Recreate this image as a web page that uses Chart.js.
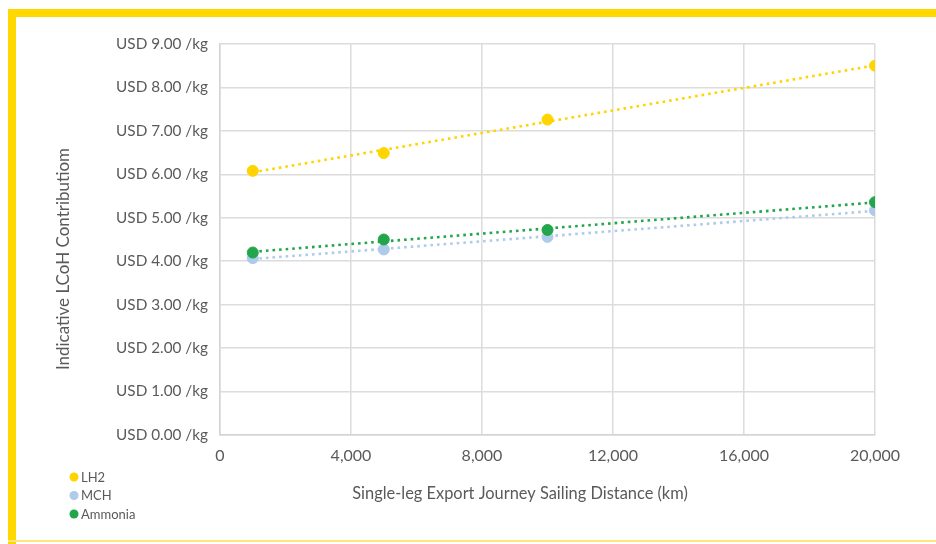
<!DOCTYPE html>
<html>
<head>
<meta charset="utf-8">
<script src="https://cdn.jsdelivr.net/npm/chart.js@4/dist/chart.umd.min.js"></script>
<style>
  html, body { margin: 0; padding: 0; background: #ffffff; }
  #wrap { position: relative; width: 936px; height: 544px; overflow: hidden; }
  #frame-top { position: absolute; left: 8px; top: 9px; width: 940px; height: 8px; background: #FFD800; }
  #frame-left { position: absolute; left: 8px; top: 9px; width: 8px; height: 540px; background: #FFD800; }
  #frame-bottom { position: absolute; left: 8px; top: 540px; width: 940px; height: 2px; background: #FBE77A; }
  canvas { position: absolute; left: 0; top: 0; }
</style>
</head>
<body>
<div id="wrap">
  <canvas id="chart" width="936" height="544"></canvas>
  <div id="frame-top"></div>
  <div id="frame-left"></div>
  <div id="frame-bottom"></div>
</div>
<script>
// Sailing distances (km) and indicative LCoH contribution (USD/kg) per carrier
const distanceKm = [1000, 5000, 10000, 20000];
const lh2Cost = [6.08, 6.49, 7.26, 8.50];
const mchCost = [4.07, 4.27, 4.56, 5.17];
const ammoniaCost = [4.20, 4.50, 4.72, 5.36];

const seriesNames = ['LH2', 'MCH', 'Ammonia'];
const seriesColors = ['#FFD400', '#AECBEA', '#22A64B'];

const xTickValues = [0, 4000, 8000, 12000, 16000, 20000];
const xTickLabels = ['0', '4,000', '8,000', '12,000', '16,000', '20,000'];
const yTickValues = [0, 1, 2, 3, 4, 5, 6, 7, 8, 9];
const yTickLabels = ['USD 0.00 /kg', 'USD 1.00 /kg', 'USD 2.00 /kg', 'USD 3.00 /kg', 'USD 4.00 /kg',
                     'USD 5.00 /kg', 'USD 6.00 /kg', 'USD 7.00 /kg', 'USD 8.00 /kg', 'USD 9.00 /kg'];

const xTitle = 'Single-leg Export Journey Sailing Distance (km)';
const yTitle = 'Indicative LCoH Contributiom';

const FONT = 'Lato, "Open Sans", sans-serif';
const TEXT = '#5a5a5a';

// Least-squares linear trend evaluated at the first and last distance
function linearTrend(xs, ys) {
  const n = xs.length;
  const mx = xs.reduce((a, b) => a + b, 0) / n;
  const my = ys.reduce((a, b) => a + b, 0) / n;
  let sxy = 0, sxx = 0;
  for (let i = 0; i < n; i++) { sxy += (xs[i] - mx) * (ys[i] - my); sxx += (xs[i] - mx) ** 2; }
  const slope = sxy / sxx;
  const x0 = xs[0], x1 = xs[n - 1];
  return [{ x: x0, y: my + slope * (x0 - mx) }, { x: x1, y: my + slope * (x1 - mx) }];
}

const toPoints = ys => distanceKm.map((d, i) => ({ x: d, y: ys[i] }));
const seriesValues = [lh2Cost, mchCost, ammoniaCost];
const drawOrder = [2, 3, 1];

const datasets = [];
seriesValues.forEach((vals, i) => {
  datasets.push({
    type: 'line',
    label: seriesNames[i] + ' trend',
    data: linearTrend(distanceKm, vals),
    borderColor: seriesColors[i],
    borderWidth: 2.6,
    borderDash: [2.6, 4],
    pointRadius: 0,
    fill: false,
    order: 10 + drawOrder[i]
  });
});
seriesValues.forEach((vals, i) => {
  datasets.push({
    type: 'scatter',
    label: seriesNames[i],
    data: toPoints(vals),
    backgroundColor: seriesColors[i],
    borderColor: seriesColors[i],
    pointRadius: 5.5,
    pointHoverRadius: 5.5,
    order: drawOrder[i]
  });
});

// Axis titles and the stacked legend in the lower-left corner
const decorations = {
  id: 'decorations',
  afterDraw(chart) {
    const ctx = chart.ctx;
    ctx.save();
    ctx.fillStyle = TEXT;
    ctx.textAlign = 'center';
    ctx.textBaseline = 'middle';
    ctx.font = '16.4px ' + FONT;
    ctx.fillText(xTitle, 520, 494);
    ctx.translate(64, 259);
    ctx.rotate(-Math.PI / 2);
    ctx.font = '17px ' + FONT;
    ctx.fillText(yTitle, 0, 0);
    ctx.restore();

    ctx.save();
    ctx.font = '13px ' + FONT;
    ctx.textBaseline = 'middle';
    ctx.textAlign = 'left';
    seriesNames.forEach((name, i) => {
      const y = 477 + i * 18.5;
      ctx.fillStyle = seriesColors[i];
      ctx.beginPath();
      ctx.arc(74, y, 4.5, 0, Math.PI * 2);
      ctx.fill();
      ctx.fillStyle = TEXT;
      ctx.fillText(name, 81, y + 0.5);
    });
    ctx.restore();
  }
};

new Chart(document.getElementById('chart'), {
  type: 'scatter',
  data: { datasets },
  options: {
    responsive: false,
    animation: false,
    layout: { padding: { left: 0, top: 44, right: 61, bottom: 0 } },
    plugins: { legend: { display: false }, tooltip: { enabled: false } },
    scales: {
      x: {
        type: 'linear',
        min: 0, max: 20000,
        afterBuildTicks: s => { s.ticks = xTickValues.map(v => ({ value: v })); },
        afterFit: s => { s.height = 109; },
        ticks: {
          callback: (v) => xTickLabels[xTickValues.indexOf(v)],
          color: TEXT, font: { family: FONT, size: 16 }, padding: 11, maxRotation: 0
        },
        grid: { color: '#dcdcdc', lineWidth: 1.5, drawTicks: false },
        border: { color: '#d4d4d4', width: 1.5 }
      },
      y: {
        min: 0, max: 9,
        afterBuildTicks: s => { s.ticks = yTickValues.map(v => ({ value: v })); },
        afterFit: s => { s.width = 220; },
        ticks: {
          callback: (v) => yTickLabels[yTickValues.indexOf(v)],
          color: TEXT, font: { family: FONT, size: 15.3 }, padding: 12
        },
        grid: { color: '#dcdcdc', lineWidth: 1.5, drawTicks: false },
        border: { color: '#d4d4d4', width: 1.5 }
      }
    }
  },
  plugins: [decorations]
});
</script>
</body>
</html>
